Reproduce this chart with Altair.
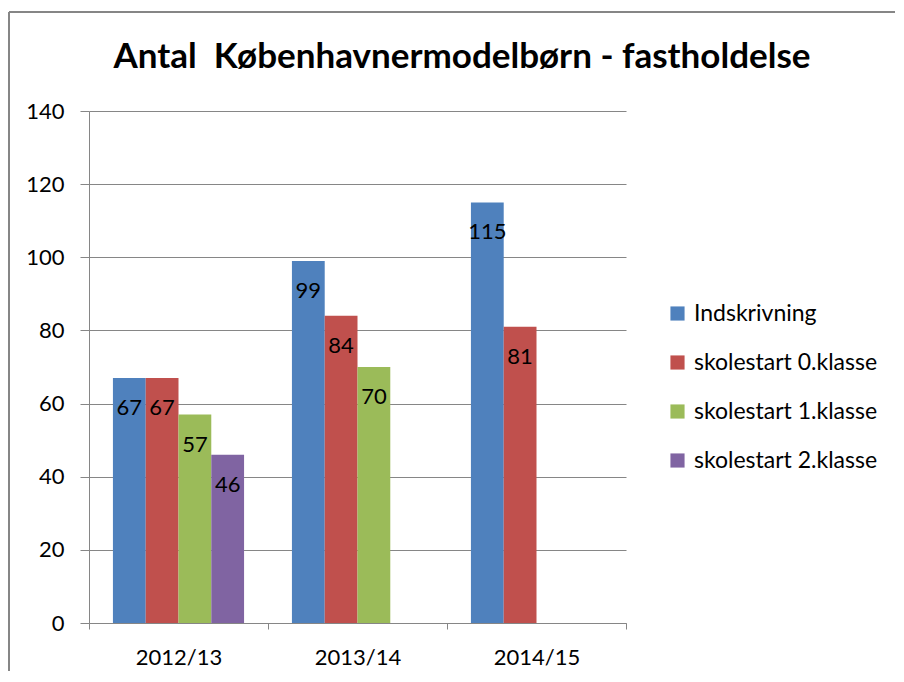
import altair as alt
import pandas as pd

title_text = "Antal\u00a0\u00a0Københavnermodelbørn - fastholdelse"
years = ["2012/13", "2013/14", "2014/15"]
series = ["Indskrivning", "skolestart 0.klasse", "skolestart 1.klasse", "skolestart 2.klasse"]
indskrivning = [67, 99, 115]
klasse0 = [67, 84, 81]
klasse1 = [57, 70, None]
klasse2 = [46, None, None]
colors = ["#4F81BD", "#C0504D", "#9BBB59", "#8064A2"]

rows = []
for s, vals in zip(series, [indskrivning, klasse0, klasse1, klasse2]):
    for y, v in zip(years, vals):
        if v is not None:
            rows.append({"year": y, "series": s, "value": v})
df = pd.DataFrame(rows)

FONT = "Lato"
GRAY = "#868686"

x = alt.X("year:N", sort=years, title=None,
          scale=alt.Scale(paddingInner=0, paddingOuter=0),
          axis=alt.Axis(labelAngle=0, tickBand="extent", grid=False,
                        labelFontSize=22, labelFont=FONT, labelColor="black",
                        domainColor=GRAY, tickColor=GRAY, tickSize=6,
                        labelPadding=18))
xo = alt.XOffset("series:N", sort=series,
                 scale=alt.Scale(domain=series, paddingInner=0, paddingOuter=0.73))
y = alt.Y("value:Q", title=None,
          scale=alt.Scale(domain=[0, 140], nice=False),
          axis=alt.Axis(values=[0, 20, 40, 60, 80, 100, 120, 140],
                        labelFontSize=22, labelFont=FONT, labelColor="black",
                        domainColor=GRAY, tickColor=GRAY, tickSize=9,
                        gridColor=GRAY, gridWidth=1.2, labelPadding=16))

base = alt.Chart(df)

bars = base.mark_bar().encode(
    x=x, xOffset=xo, y=y,
    color=alt.Color("series:N", sort=series,
                    scale=alt.Scale(domain=series, range=colors),
                    legend=alt.Legend(title=None, orient="none",
                                      legendX=577, legendY=191,
                                      symbolType="square", symbolSize=200,
                                      symbolStrokeWidth=0,
                                      labelFontSize=23, labelFont=FONT,
                                      labelColor="black", rowPadding=25,
                                      labelOffset=5, padding=0,
                                      labelLimit=400)),
)

labels = base.mark_text(baseline="middle", align="center", dy=30,
                        fontSize=22, font=FONT, color="black").encode(
    x=x, xOffset=xo, y=y, text="value:Q")

one = pd.DataFrame({"a": [0]})
frame_top = alt.Chart(one).mark_rule(color=GRAY, strokeWidth=2).encode(
    x=alt.value(-80), x2=alt.value(806), y=alt.value(-99))
frame_left = alt.Chart(one).mark_rule(color=GRAY, strokeWidth=2).encode(
    x=alt.value(-80), y=alt.value(-99), y2=alt.value(560))

title = alt.Chart(pd.DataFrame({"t": [title_text]})).mark_text(
    font=FONT, fontSize=35, fontWeight="bold", color="black",
    align="center", baseline="alphabetic").encode(
    x=alt.value(373), y=alt.value(-43), text="t:N")

chart = alt.layer(frame_top, frame_left, title, bars, labels).properties(
    width=537, height=512,
    padding={"left": 0, "top": 3, "right": 0, "bottom": 0},
).configure_view(stroke=None)

chart.save("out.html", embed_options={"renderer": "svg", "actions": False})
